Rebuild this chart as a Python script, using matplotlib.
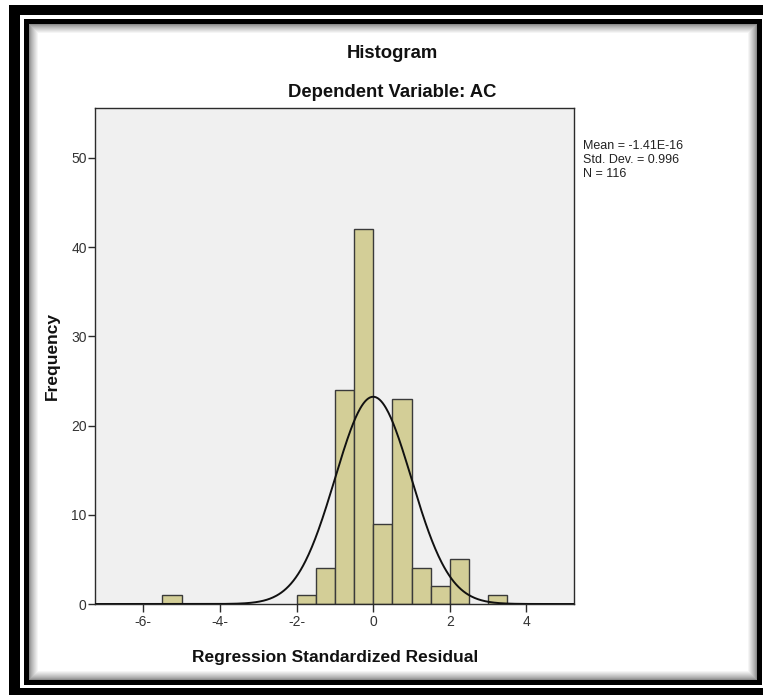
import numpy as np
import matplotlib
matplotlib.use("Agg")
import matplotlib.pyplot as plt
from matplotlib.patches import Rectangle

plt.rcParams['font.family'] = ['Liberation Sans', 'DejaVu Sans']

# histogram of regression standardized residuals
bin_left = [-5.5, -2.0, -1.5, -1.0, -0.5, 0.0, 0.5, 1.0, 1.5, 2.0, 3.0]
counts = [1, 1, 4, 24, 42, 9, 23, 4, 2, 5, 1]
bin_width = 0.5

mean = -1.41e-16
std_dev = 0.996
n_cases = 116

x_ticks = [-6, -4, -2, 0, 2, 4]
x_tick_labels = ["-6-", "-4-", "-2-", "0", "2", "4"]
y_ticks = [0, 10, 20, 30, 40, 50]

W, H = 763, 695
fig = plt.figure(figsize=(W / 100, H / 100), dpi=100)

def fx(px):
    return px / W

def fy(py):
    return 1 - py / H

# frame around the chart, in pixel coords
bg = fig.add_axes([0, 0, 1, 1], zorder=0)
bg.set_xlim(0, W)
bg.set_ylim(H, 0)
bg.axis("off")
bg.add_patch(Rectangle((9, 5), 800, 800, color="black", lw=0))
bg.add_patch(Rectangle((20, 15), 800, 673, color="white", lw=0))
bg.add_patch(Rectangle((24, 19), 738, 666, color="black", lw=0))
for i in range(10):
    g = 0.55 + 0.45 * (i / 9) ** 0.8
    bg.add_patch(Rectangle((29 + i, 24 + i), 728 - 2 * i, 656 - 2 * i,
                           color=(g, g, g), lw=0))

# plot area
ax = fig.add_axes([fx(95), fy(604), (574 - 95) / W, (604 - 108) / H], zorder=1)
ax.set_facecolor("#f0f0f0")
ax.bar(bin_left, counts, width=bin_width, align="edge", color="#d3ce97",
       edgecolor="#3a3a3a", linewidth=1.0, zorder=2)

xs = np.linspace(-7.3, 5.3, 600)
peak = n_cases * bin_width / (std_dev * np.sqrt(2 * np.pi))
ax.plot(xs, peak * np.exp(-(xs - mean) ** 2 / (2 * std_dev ** 2)),
        color="#111111", lw=1.4, zorder=3)

ax.set_xlim(-7.26, 5.24)
ax.set_ylim(0, 55.6)
ax.set_xticks(x_ticks)
ax.set_xticklabels(x_tick_labels)
ax.set_yticks(y_ticks)
ax.tick_params(axis="x", direction="out", length=5.8, width=1, pad=2,
               labelsize=10, labelcolor="#333333", color="#2b2b2b")
ax.tick_params(axis="y", direction="out", length=5, width=1, pad=1,
               labelsize=10, labelcolor="#333333", color="#2b2b2b")
for s in ax.spines.values():
    s.set_color("#2b2b2b")
    s.set_linewidth(1.0)

# titles and labels
fig.text(fx(392), fy(58), "Histogram", ha="center", va="baseline",
         fontsize=13.3, fontweight="bold", color="#111111")
fig.text(fx(392), fy(97), "Dependent Variable: AC", ha="center", va="baseline",
         fontsize=13.3, fontweight="bold", color="#111111")
fig.text(fx(335), fy(662), "Regression Standardized Residual", ha="center",
         va="baseline", fontsize=12.5, fontweight="bold", color="#111111")
fig.text(fx(52), fy(356), "Frequency", ha="center", va="center", rotation=90,
         fontsize=12.5, fontweight="bold", color="#111111")

stats = ["Mean = -1.41E-16", "Std. Dev. = 0.996", "N = 116"]
for k, line in enumerate(stats):
    fig.text(fx(583), fy(149.3 + 13.7 * k), line, ha="left", va="baseline",
             fontsize=9, color="#222222")

fig.savefig("out.png", dpi=100)
